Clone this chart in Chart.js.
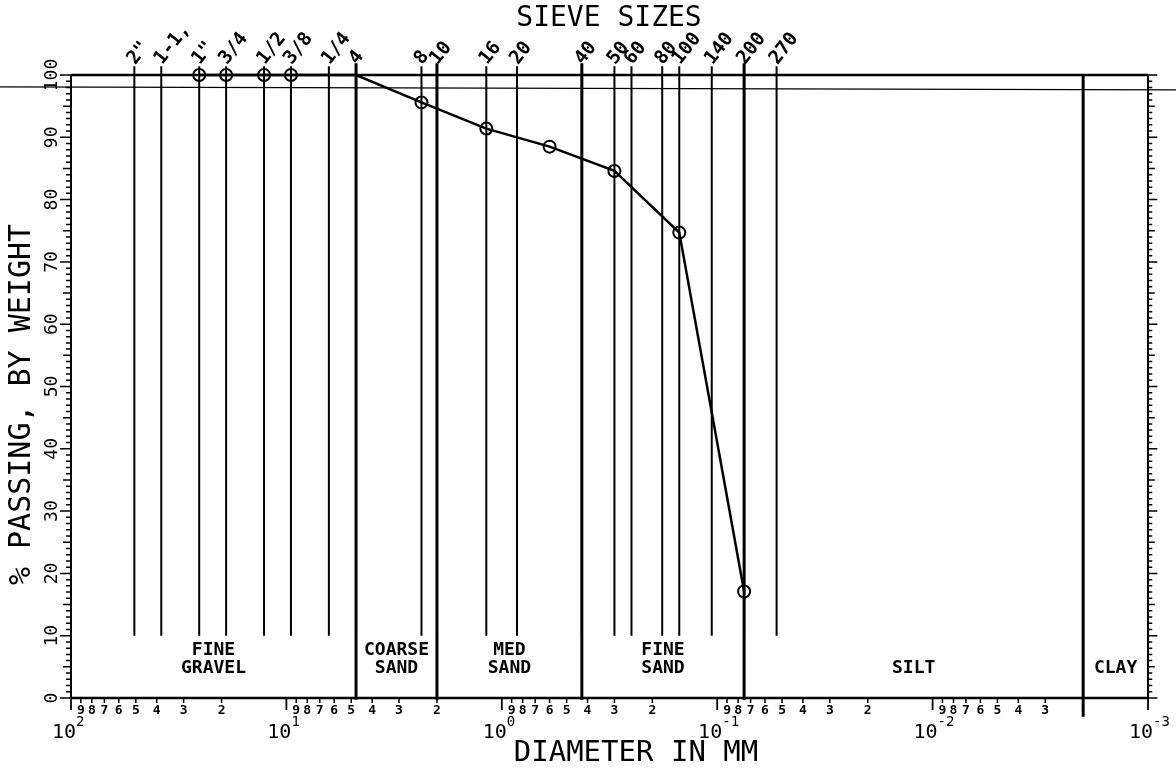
<!DOCTYPE html>
<html><head><meta charset="utf-8">
<script src="https://cdn.jsdelivr.net/npm/chart.js@4/dist/chart.umd.min.js"></script>
<style>html,body{margin:0;padding:0;background:#fff}#wrap{width:1176px;height:769px}</style>
</head><body><div id="wrap"><canvas id="c" width="1176" height="769"></canvas></div>
<script>
// ---- data ----
const sieveLabels   = ['2"','1-1,','1"','3/4','1/2','3/8','1/4','4','8','10','16','20','40','50','60','80','100','140','200','270'];
const sieveSizesMM  = [50.8,38.1,25.4,19.05,12.7,9.525,6.35,4.75,2.36,2.0,1.18,0.85,0.425,0.30,0.25,0.18,0.15,0.106,0.075,0.053];
const boundarySizesMM = [4.75, 2.0, 0.425, 0.075, 0.002];
const zoneNames = [['FINE','GRAVEL'],['COARSE','SAND'],['MED','SAND'],['FINE','SAND'],['SILT'],['CLAY']];
const testSizesMM    = [25.4,19.05,12.7,9.525,6.35,4.75,2.36,1.18,0.60,0.30,0.15,0.075];
const percentPassing = [100,100,100,100,100,100,95.6,91.4,88.5,84.6,74.7,17.1];
const markerShown    = [1,1,1,1,0,0,1,1,1,1,1,1];
const yTickLabels = ['0','10','20','30','40','50','60','70','80','90','100'];
const decadeExponents = ['2','1','0','-1','-2','-3'];
const minorDigits = ['9','8','7','6','5','4','3','2'];
const xMin = 0.001, xMax = 100;

const MONO = '"DejaVu Sans Mono", "Liberation Mono", monospace';

// ---- datasets ----
const datasets = [];
sieveSizesMM.forEach((d) => {
  datasets.push({ data: [{x:d,y:10},{x:d,y:101.4}], borderColor:'#000', borderWidth:2, pointRadius:0, clip:false, order:3 });
});
boundarySizesMM.forEach((d, i) => {
  const last = i === boundarySizesMM.length - 1;
  datasets.push({ data: [{x:d,y:last?-3:-0.3},{x:d,y:last?100:101.9}], borderColor:'#000', borderWidth:3, pointRadius:0, clip:false, order:2 });
});
datasets.push({
  data: testSizesMM.map((d,i)=>({x:d,y:percentPassing[i]})),
  borderColor:'#000', borderWidth:2.5, tension:0,
  pointStyle:'circle',
  pointRadius:(c)=> markerShown[c.dataIndex] ? 6 : 0,
  pointBorderWidth:2, pointBorderColor:'#000', pointBackgroundColor:'rgba(0,0,0,0)',
  clip:false, order:1
});

// ---- decoration plugin ----
const paper = {
  id:'paper',
  afterDatasetsDraw(chart){
    const {ctx, chartArea:a, scales:{x,y}} = chart;
    ctx.save();
    ctx.strokeStyle='#000'; ctx.fillStyle='#000';
    // scan fold line
    ctx.lineWidth=1.2;
    ctx.beginPath(); ctx.moveTo(0, y.getPixelForValue(98.1)); ctx.lineTo(chart.width, y.getPixelForValue(97.6)); ctx.stroke();
    // frame
    ctx.lineWidth=2.5;
    ctx.beginPath();
    ctx.moveTo(a.left,a.top); ctx.lineTo(a.right,a.top);
    ctx.moveTo(a.left,a.bottom); ctx.lineTo(a.right,a.bottom);
    ctx.stroke();
    ctx.lineWidth=2;
    ctx.beginPath();
    ctx.moveTo(a.left,a.top); ctx.lineTo(a.left,a.bottom);
    ctx.moveTo(a.right,a.top); ctx.lineTo(a.right,a.bottom);
    ctx.stroke();
    // y ticks
    ctx.lineWidth=1.5;
    for(let v=0; v<=100; v++){
      const py=y.getPixelForValue(v);
      const len = v%10===0 ? 11 : (v%5===0 ? 8 : 5);
      ctx.beginPath();
      ctx.moveTo(a.left-len,py); ctx.lineTo(a.left,py);
      ctx.moveTo(a.right,py); ctx.lineTo(a.right+len*0.85,py);
      ctx.stroke();
    }
    // y tick labels (rotated)
    ctx.font='18px '+MONO; ctx.textAlign='center'; ctx.textBaseline='middle';
    yTickLabels.forEach(t=>{
      const py=y.getPixelForValue(Number(t));
      ctx.save(); ctx.translate(a.left-19,py); ctx.rotate(-Math.PI/2); ctx.fillText(t,0,0); ctx.restore();
    });
    // y title
    ctx.font='30px '+MONO;
    ctx.save(); ctx.translate(22,(a.top+a.bottom)/2+18); ctx.rotate(-Math.PI/2); ctx.fillText('% PASSING, BY WEIGHT',0,0); ctx.restore();
    // x decade ticks + labels
    decadeExponents.forEach(e=>{
      const px=x.getPixelForValue(Math.pow(10,Number(e)));
      ctx.lineWidth=1.8;
      ctx.beginPath(); ctx.moveTo(px,a.bottom); ctx.lineTo(px,a.bottom+12); ctx.stroke();
      ctx.font='20px '+MONO; ctx.textAlign='right'; ctx.textBaseline='alphabetic';
      ctx.fillText('10',px+5,a.bottom+40);
      ctx.font='14px '+MONO; ctx.textAlign='left';
      ctx.fillText(e,px+5,a.bottom+28);
    });
    // minor digits
    ctx.font='bold 13px '+MONO; ctx.textAlign='center'; ctx.textBaseline='middle';
    decadeExponents.slice(0,-1).forEach(e=>{
      const base=Math.pow(10,Number(e)-1);
      minorDigits.forEach(n=>{
        const v=Number(n)*base;
        if (Math.abs(v-boundarySizesMM[boundarySizesMM.length-1])<1e-9) return;
        const px=x.getPixelForValue(v);
        ctx.lineWidth=1.5;
        ctx.beginPath(); ctx.moveTo(px,a.bottom); ctx.lineTo(px,a.bottom+5); ctx.stroke();
        ctx.fillText(n,px,a.bottom+13);
      });
    });
    // x title
    ctx.font='29px '+MONO; ctx.textAlign='center'; ctx.textBaseline='middle';
    ctx.fillText('DIAMETER IN MM', 636, a.bottom+55);
    // top title
    ctx.font='28px '+MONO;
    ctx.fillText('SIEVE SIZES', 609, 19);
    // sieve labels
    ctx.font='bold 19px '+MONO; ctx.textAlign='left'; ctx.textBaseline='middle';
    sieveLabels.forEach((t,i)=>{
      const px=x.getPixelForValue(sieveSizesMM[i]);
      const py=y.getPixelForValue(101.4);
      ctx.save(); ctx.translate(px-3,py-4); ctx.rotate(-52*Math.PI/180); ctx.fillText(t,0,0); ctx.restore();
    });
    // zone labels
    const edges=[xMax,...boundarySizesMM,xMin];
    ctx.font='bold 18px '+MONO; ctx.textAlign='center'; ctx.textBaseline='middle';
    zoneNames.forEach((lines,i)=>{
      const px=x.getPixelForValue(Math.sqrt(edges[i]*edges[i+1]));
      if(lines.length===2){
        ctx.fillText(lines[0],px,y.getPixelForValue(7.6));
        ctx.fillText(lines[1],px,y.getPixelForValue(4.8));
      } else {
        ctx.fillText(lines[0],px,y.getPixelForValue(4.8));
      }
    });
    ctx.restore();
  }
};

new Chart(document.getElementById('c'), {
  type:'line',
  data:{ datasets },
  options:{
    responsive:false, animation:false,
    layout:{ padding:{ left:71, right:28, top:75, bottom:71 } },
    parsing:true,
    scales:{
      x:{ type:'logarithmic', min:xMin, max:xMax, reverse:true, display:false },
      y:{ type:'linear', min:0, max:100, display:false }
    },
    plugins:{ legend:{display:false}, tooltip:{enabled:false} }
  },
  plugins:[paper]
});
</script>
</body></html>
